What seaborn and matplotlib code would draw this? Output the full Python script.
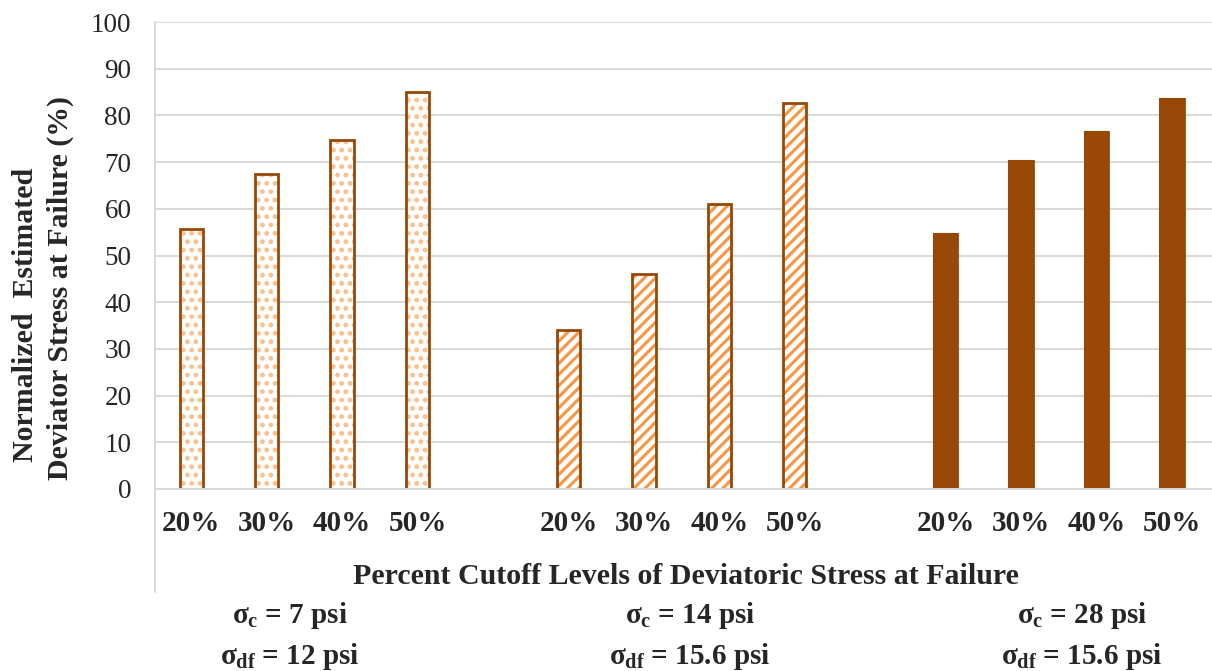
import numpy as np
import pandas as pd
import matplotlib
matplotlib.use("Agg")
import matplotlib.pyplot as plt
import seaborn as sns
from matplotlib.lines import Line2D

# ---- data ----
cutoffs = ["20%", "30%", "40%", "50%"]
groups = ["7 psi", "14 psi", "28 psi"]
vals_7psi = [55.7, 67.5, 74.7, 85.0]
vals_14psi = [34.0, 46.0, 61.0, 82.6]
vals_28psi = [54.7, 70.3, 76.4, 83.5]
group_labels = [r"$\sigma_{c}$ = 7 psi" + "\n" + r"$\sigma_{df}$ = 12 psi",
                r"$\sigma_{c}$ = 14 psi" + "\n" + r"$\sigma_{df}$ = 15.6 psi",
                r"$\sigma_{c}$ = 28 psi" + "\n" + r"$\sigma_{df}$ = 15.6 psi"]

sns.set_theme(style="white")
plt.rcParams['font.family'] = ['Liberation Serif', 'DejaVu Serif']
plt.rcParams['mathtext.fontset'] = 'custom'
plt.rcParams['mathtext.rm'] = 'Liberation Serif:bold'
plt.rcParams['mathtext.it'] = 'Liberation Serif:bold'
plt.rcParams['mathtext.bf'] = 'Liberation Serif:bold'
plt.rcParams['hatch.linewidth'] = 2.2

light_orange = "#f9be8c"
orange = "#f79646"
brown = "#974706"

rows = []
for gi, (g, vals) in enumerate(zip(groups, [vals_7psi, vals_14psi, vals_28psi])):
    for ci, (c, v) in enumerate(zip(cutoffs, vals)):
        rows.append({"group": g, "cutoff": c, "pos": gi * 5 + ci, "value": v})
df = pd.DataFrame(rows)

fig = plt.figure(figsize=(12.12, 6.71), dpi=100)
ax = fig.add_axes([155 / 1212, 1 - 489 / 671, 1 - 155 / 1212, (489 - 22) / 671])

sns.barplot(data=df, x="pos", y="value", hue="group", hue_order=groups,
            palette=["white", "white", brown], native_scale=True, width=0.31,
            dodge=False, legend=False, saturation=1, errorbar=None, ax=ax)

# hatch patterns
for bar in ax.containers[0]:
    bar.set_hatch("..")
    bar.set_edgecolor(light_orange)
    bar.set_linewidth(0)
for bar in ax.containers[1]:
    bar.set_hatch("///")
    bar.set_edgecolor(orange)
    bar.set_linewidth(0)
for bar in ax.containers[2]:
    bar.set_edgecolor(brown)
    bar.set_linewidth(1.5)

# outlines
sns.barplot(data=df, x="pos", y="value", hue="group", hue_order=groups,
            palette=[brown, brown, brown], native_scale=True, width=0.31,
            dodge=False, legend=False, saturation=1, errorbar=None,
            fill=False, linewidth=2, ax=ax)

ax.set_ylim(0, 100)
ax.set_xlim(-0.48, 13.53)
ax.set_yticks(np.arange(0, 101, 10))
ax.tick_params(axis="y", labelsize=19.5, length=0, pad=17)
ax.set_xticks(df["pos"])
ax.set_xticklabels(df["cutoff"], fontsize=21, fontweight="bold")
ax.tick_params(axis="x", length=0, pad=15)
ax.set_xlabel("")
ax.set_ylabel("")
ax.yaxis.grid(True, color="#d9d9d9", linewidth=1.4)
ax.xaxis.grid(False)
ax.set_axisbelow(True)
for s in ["top", "right"]:
    ax.spines[s].set_visible(False)
for s in ["left", "bottom"]:
    ax.spines[s].set_color("#d9d9d9")
    ax.spines[s].set_linewidth(1.4)

# extension of the left axis line below the plot
fig.add_artist(Line2D([155 / 1212, 155 / 1212], [1 - 489 / 671, 1 - 592 / 671],
                      transform=fig.transFigure, color="#d9d9d9", linewidth=1.4))

# axis titles
fig.text(686 / 1212, 1 - 577 / 671, "Percent Cutoff Levels of Deviatoric Stress at Failure",
         ha="center", va="center", fontsize=21.5, fontweight="bold")
fig.text(26 / 1212, 1 - 315 / 671, "Normalized  Estimated", rotation=90,
         ha="center", va="center", fontsize=21.5, fontweight="bold")
fig.text(60 / 1212, 1 - 288 / 671, "Deviator Stress at Failure (%)", rotation=90,
         ha="center", va="center", fontsize=21.5, fontweight="bold")

# group labels
for xc, lab in zip([290, 690, 1082], group_labels):
    fig.text(xc / 1212, 1 - 636 / 671, lab, ha="center", va="center",
             fontsize=21, fontweight="bold", linespacing=1.4)

fig.savefig("out.png", dpi=100)
